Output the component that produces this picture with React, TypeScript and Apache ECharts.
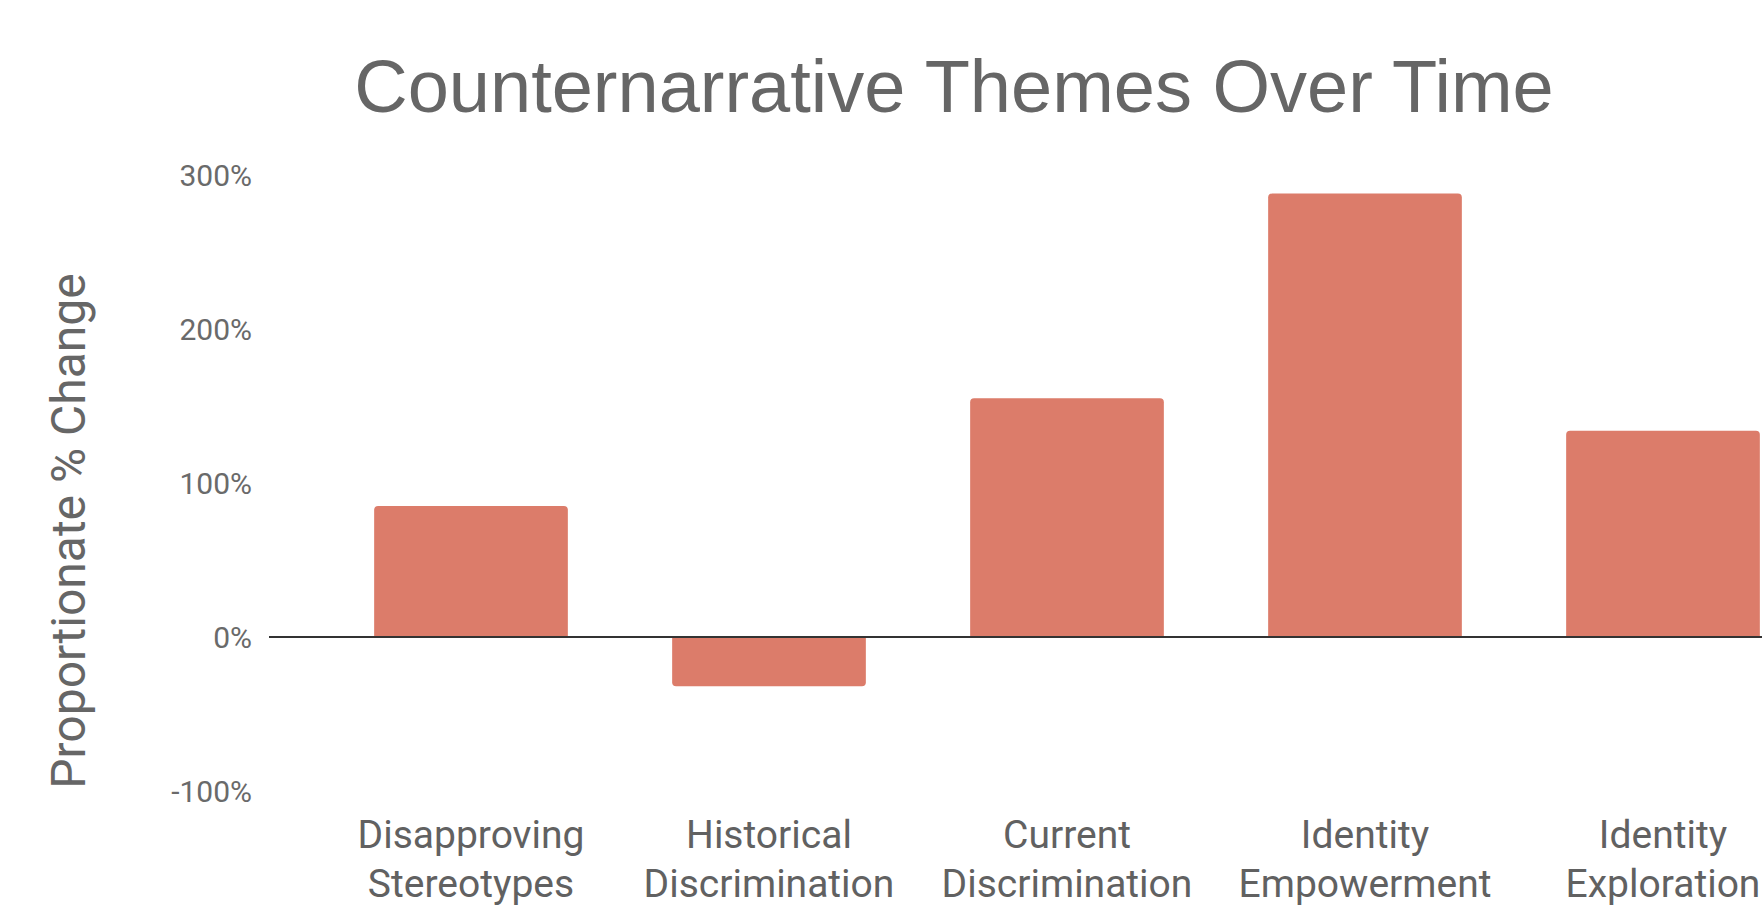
import React, { useEffect, useRef } from "react";
import * as echarts from "echarts";

const title = "Counternarrative Themes Over Time";
const yAxisTitle = "Proportionate % Change";
const categories = [
  "Disapproving Stereotypes",
  "Historical Discrimination",
  "Current Discrimination",
  "Identity Empowerment",
  "Identity Exploration",
];
const values = [85, -32, 155, 288, 134];
const yMin = -100;
const yMax = 300;
const yInterval = 100;

const barColor = "#DC7C6A";
const textGrey = "#666666";

export default function App() {
  const ref = useRef<HTMLDivElement>(null);

  useEffect(() => {
    const chart = echarts.init(ref.current!, null, { renderer: "svg" });
    chart.setOption({
      animation: false,
      backgroundColor: "#ffffff",
      title: {
        text: title,
        left: "center",
        top: 44,
        textStyle: {
          fontFamily: "Liberation Sans, Arial, sans-serif",
          fontSize: 74,
          fontWeight: "normal",
          color: textGrey,
        },
      },
      grid: { left: 322, width: 1490, top: 175, height: 625, containLabel: false },
      xAxis: {
        type: "category",
        data: categories,
        axisLine: { show: false, onZero: false },
        axisTick: { show: false },
        axisLabel: {
          margin: 19,
          interval: 0,
          fontFamily: "Roboto, sans-serif",
          fontSize: 39,
          lineHeight: 49,
          color: "#616161",
          formatter: (v: string) => v.replace(" ", "\n"),
        },
      },
      yAxis: {
        type: "value",
        min: yMin,
        max: yMax,
        interval: yInterval,
        splitLine: { show: false },
        axisLine: { show: false },
        axisTick: { show: false },
        axisLabel: {
          margin: 70,
          fontFamily: "Roboto, sans-serif",
          fontSize: 30,
          color: "#6a6a6a",
          formatter: "{value}%",
        },
      },
      series: [
        {
          type: "bar",
          barWidth: "65%",
          data: values.map((v) => ({
            value: v,
            itemStyle: {
              color: barColor,
              borderRadius: v >= 0 ? [4, 4, 0, 0] : [0, 0, 4, 4],
            },
          })),
        },
      ],
    });
    const y0 = chart.convertToPixel({ yAxisIndex: 0 }, 0) as number;
    chart.setOption({
      graphic: [
        {
          type: "line",
          z: 100,
          shape: { x1: 269, y1: y0, x2: 1908, y2: y0 },
          style: { stroke: "#333333", lineWidth: 2 },
        },
        {
          type: "text",
          x: 68,
          y: 531,
          rotation: Math.PI / 2,
          style: {
            text: yAxisTitle,
            fontFamily: "Roboto, sans-serif",
            fontSize: 48,
            fill: textGrey,
            textAlign: "center",
            textVerticalAlign: "middle",
          },
        },
      ],
    });
    return () => chart.dispose();
  }, []);

  return (
    <div
      style={{
        position: "fixed",
        left: 0,
        top: 0,
        width: "100vw",
        height: "100vh",
        overflow: "hidden",
        background: "#ffffff",
      }}
    >
      <div ref={ref} style={{ width: 1908, height: 908 }} />
    </div>
  );
}
